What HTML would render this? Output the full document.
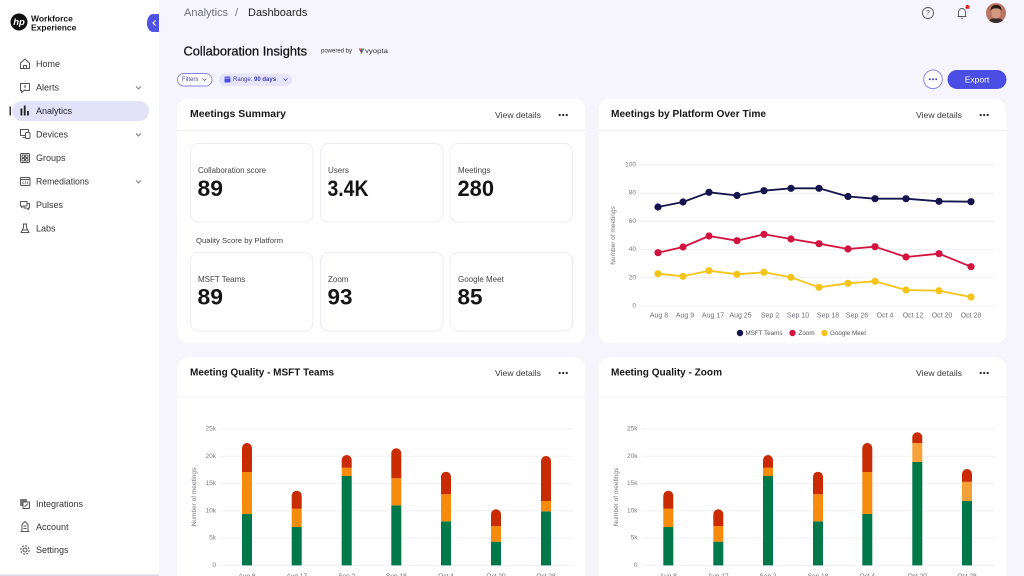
<!DOCTYPE html>
<html><head><meta charset="utf-8"><style>
html,body{margin:0;padding:0;width:1024px;height:576px;overflow:hidden;background:#f6f5fd;}
svg{display:block;}
</style></head><body>
<svg width="1024" height="576" viewBox="0 0 1024 576" font-family="'Liberation Sans', sans-serif">
<!-- backgrounds -->
<rect x="0" y="0" width="1024" height="576" fill="#f6f5fd"/>
<rect x="0" y="0" width="159" height="576" fill="#ffffff"/>
<rect x="0" y="574.5" width="159" height="1.5" fill="#dcdce4"/>

<!-- Logo -->
<circle cx="19" cy="22" r="8.5" fill="#111"/>
<text x="19" y="22.5" font-size="9.5" font-weight="bold" font-style="italic" fill="#fff" text-anchor="middle" dominant-baseline="central">hp</text>
<text x="31" y="18.5" font-size="8.5" font-weight="bold" fill="#151515" dominant-baseline="central">Workforce</text>
<text x="31" y="27.5" font-size="8.5" font-weight="bold" fill="#151515" dominant-baseline="central">Experience</text>

<!-- collapse tab -->
<path d="M159 14 V32 H156 A9 9 0 0 1 156 14 Z" fill="#4f52e2"/>
<rect x="147" y="14" width="12" height="18" rx="9" fill="#4f52e2"/>
<polyline points="155.5,20.5 153,23 155.5,25.5" fill="none" stroke="#fff" stroke-width="1.1"/>

<!-- Active pill -->
<rect x="12" y="101" width="137" height="20" rx="10" fill="#e3e2f8"/>
<rect x="9.5" y="106.5" width="1.5" height="9" fill="#333"/>

<!-- nav icons -->
<g fill="none" stroke="#555" stroke-width="1" stroke-linejoin="round">
  <!-- Home -->
  <path d="M20.5 68.5 V63 L25 59 L29.5 63 V68.5 Z"/>
  <path d="M23.5 68.5 V65.5 H26.5 V68.5"/>
  <!-- Alerts -->
  <path d="M20.5 83.5 H29.5 V90.5 H24 L21.5 92.5 V90.5 H20.5 Z"/>
  <path d="M25 85 V88 M25 89 V89.6"/>
  <!-- Devices -->
  <rect x="20.5" y="129.5" width="8" height="6"/>
  <path d="M22.5 137.5 H25"/>
  <rect x="25.5" y="132.5" width="4.5" height="6" rx="1" fill="#fff"/>
  <!-- Groups -->
  <rect x="20.5" y="153.5" width="9" height="9" rx="1"/>
  <rect x="22" y="155" width="2.5" height="2.5" rx="0.5"/>
  <rect x="25.5" y="155" width="2.5" height="2.5" rx="0.5"/>
  <rect x="22" y="158.5" width="2.5" height="2.5" rx="0.5"/>
  <rect x="25.5" y="158.5" width="2.5" height="2.5" rx="0.5"/>
  <!-- Remediations -->
  <rect x="20.5" y="177.5" width="9.5" height="8" rx="1"/>
  <path d="M20.5 179.5 H30"/>
  <path d="M23.5 181.5 L22.5 182.8 L23.5 184 M27 181.5 L28 182.8 L27 184 M25.8 181.3 L24.8 184.3" stroke-width="0.7"/>
  <!-- Pulses -->
  <path d="M20.5 201.5 H27 V206 H23.5 L21.5 207.5 V206 H20.5 Z"/>
  <path d="M27 203.5 H29.5 V208 H28.5 V209.5 L26.5 208 H24 V206"/>
  <!-- Labs -->
  <path d="M23.5 224 V227.5 L21 232.5 H29 L26.5 227.5 V224 M22.8 224 H27.2"/>
  <path d="M22 230 H28"/>
  <!-- Integrations -->
  <rect x="20.5" y="499.5" width="6" height="6" fill="#777" stroke="#777"/>
  <rect x="23" y="502" width="6.5" height="6.5" fill="#fff"/>
  <path d="M24.5 507 L28 503.5"/>
  <!-- Account -->
  <path d="M22 531.5 V524.5 L25 521.5 L28 524.5 V531.5 M20.5 531.5 H29.5 M23.5 526 H26.5 M23.5 528.5 H26.5"/>
  <!-- Settings -->
  <circle cx="25" cy="550" r="2"/>
  <circle cx="25" cy="550" r="4.2" stroke-dasharray="2 1.3"/>
</g>
<!-- Analytics icon -->
<g fill="#222">
  <rect x="20.5" y="108.5" width="1.8" height="7"/>
  <rect x="23.8" y="105.5" width="1.8" height="10"/>
  <rect x="27.1" y="111" width="1.8" height="4.5"/>
</g>

<!-- nav text -->
<g font-size="9" fill="#333" dominant-baseline="central">
  <text x="36" y="64">Home</text>
  <text x="36" y="87.5">Alerts</text>
  <text x="36" y="111" fill="#1e1e2a">Analytics</text>
  <text x="36" y="134.5">Devices</text>
  <text x="36" y="158">Groups</text>
  <text x="36" y="181.5" textLength="53" lengthAdjust="spacingAndGlyphs">Remediations</text>
  <text x="36" y="205">Pulses</text>
  <text x="36" y="228.5">Labs</text>
  <text x="36" y="504">Integrations</text>
  <text x="36" y="527">Account</text>
  <text x="36" y="550">Settings</text>
</g>
<g fill="none" stroke="#777" stroke-width="0.9">
  <polyline points="136,86.5 138.5,89 141,86.5"/>
  <polyline points="136,133.5 138.5,136 141,133.5"/>
  <polyline points="136,180.5 138.5,183 141,180.5"/>
</g>

<!-- Top header -->
<text x="184" y="13" font-size="11" fill="#70707c" dominant-baseline="central">Analytics</text>
<text x="235" y="13" font-size="11" fill="#70707c" dominant-baseline="central">/</text>
<text x="248" y="13" font-size="11" fill="#222" dominant-baseline="central">Dashboards</text>

<!-- top right -->
<circle cx="928" cy="13" r="5.5" fill="none" stroke="#555" stroke-width="0.9"/>
<text x="928" y="13.5" font-size="7" fill="#555" text-anchor="middle" dominant-baseline="central">?</text>
<path d="M957.5 16.5 H966.5 M958.5 16.5 V12 A3.5 3.5 0 0 1 965.5 12 V16.5 M961 18.3 H963" fill="none" stroke="#555" stroke-width="0.9"/>
<circle cx="967.5" cy="7" r="2" fill="#e0231b"/>
<clipPath id="av"><circle cx="996" cy="13" r="10"/></clipPath>
<g clip-path="url(#av)">
  <rect x="986" y="3" width="20" height="20" fill="#b87563"/>
  <ellipse cx="996" cy="13" rx="4.6" ry="5.6" fill="#d49a80"/>
  <path d="M990.5 11 Q991 4.5 996 5 Q1001.5 4.5 1001.5 11 L1000 9 Q996 7.5 992 9 Z" fill="#2a1a16"/>
  <path d="M987 24 Q989 17.5 996 18.5 Q1003 17.5 1005 24 Z" fill="#3b2c2c"/>
</g>

<!-- Title -->
<text x="183.5" y="51" font-size="13" fill="#111" stroke="#111" stroke-width="0.25" dominant-baseline="central" textLength="123.5" lengthAdjust="spacingAndGlyphs">Collaboration Insights</text>
<text x="321" y="51.5" font-size="6" fill="#333" dominant-baseline="central">powered by</text>
<path d="M358.5 48.5 L364.5 48.5 L361.5 54 Z" fill="#e04848"/>
<path d="M361.5 48.5 L364.5 48.5 L361.5 54 Z" fill="#3aa060"/>
<path d="M360 50 L363 50 L361.5 52.5 Z" fill="#3a60c8"/>
<text x="365" y="51.5" font-size="6.3" fill="#333" dominant-baseline="central" textLength="23" lengthAdjust="spacingAndGlyphs">vyopta</text>

<!-- Filters -->
<rect x="177.5" y="73.5" width="34.5" height="12.5" rx="6.25" fill="#fff" stroke="#8383e0" stroke-width="0.9"/>
<text x="182" y="79.8" font-size="6" fill="#45459e" dominant-baseline="central">Filters</text>
<polyline points="202.5,78.5 204.5,80.5 206.5,78.5" fill="none" stroke="#45459e" stroke-width="0.7"/>
<rect x="219" y="73.5" width="73" height="12.5" rx="6.25" fill="#e6e5f8"/>
<rect x="224.5" y="76.5" width="6" height="6" rx="0.8" fill="#4b4ee0"/>
<rect x="224.5" y="77.8" width="6" height="0.6" fill="#e6e5f8"/>
<text x="233" y="79.8" font-size="6" fill="#3b3bb0" dominant-baseline="central">Range: <tspan font-weight="bold">90 days</tspan></text>
<polyline points="283.5,78.5 285.5,80.5 287.5,78.5" fill="none" stroke="#3b3bb0" stroke-width="0.7"/>

<!-- Dots & Export -->
<circle cx="933" cy="79.3" r="9.3" fill="#fff" stroke="#8a8ae6" stroke-width="1"/>
<circle cx="929.8" cy="79.3" r="1" fill="#3d40c8"/>
<circle cx="933" cy="79.3" r="1" fill="#3d40c8"/>
<circle cx="936.2" cy="79.3" r="1" fill="#3d40c8"/>
<rect x="947.5" y="70" width="59" height="19" rx="9.5" fill="#4b4ee2"/>
<text x="977" y="79.5" font-size="8.5" fill="#fff" text-anchor="middle" dominant-baseline="central">Export</text>

<!-- Cards -->
<rect x="177" y="98.5" width="408.5" height="245" rx="12" fill="#fff"/>
<rect x="598.5" y="98.5" width="408" height="245" rx="12" fill="#fff"/>
<rect x="177" y="357" width="408.5" height="240" rx="12" fill="#fff"/>
<rect x="598.5" y="357" width="408" height="240" rx="12" fill="#fff"/>
<rect x="177" y="130" width="408.5" height="1" fill="#f0f0f4"/>
<rect x="598.5" y="130" width="408" height="1" fill="#f0f0f4"/>
<rect x="177" y="396.5" width="408.5" height="1" fill="#f0f0f4"/>
<rect x="598.5" y="396.5" width="408" height="1" fill="#f0f0f4"/>

<!-- card headers -->
<g font-size="10" font-weight="bold" fill="#161616" dominant-baseline="central">
  <text x="190" y="114.5" textLength="96" lengthAdjust="spacingAndGlyphs">Meetings Summary</text>
  <text x="611" y="114.5" textLength="155" lengthAdjust="spacingAndGlyphs">Meetings by Platform Over Time</text>
  <text x="190" y="373" textLength="144" lengthAdjust="spacingAndGlyphs">Meeting Quality - MSFT Teams</text>
  <text x="611" y="373" textLength="111" lengthAdjust="spacingAndGlyphs">Meeting Quality - Zoom</text>
</g>
<g font-size="8.6" fill="#3a3a3a" dominant-baseline="central">
  <text x="495" y="115" textLength="46" lengthAdjust="spacingAndGlyphs">View details</text>
  <text x="916" y="115" textLength="46" lengthAdjust="spacingAndGlyphs">View details</text>
  <text x="495" y="373" textLength="46" lengthAdjust="spacingAndGlyphs">View details</text>
  <text x="916" y="373" textLength="46" lengthAdjust="spacingAndGlyphs">View details</text>
</g>
<g fill="#222">
  <circle cx="559.7" cy="115" r="1.1"/><circle cx="563.2" cy="115" r="1.1"/><circle cx="566.7" cy="115" r="1.1"/>
  <circle cx="980.7" cy="115" r="1.1"/><circle cx="984.2" cy="115" r="1.1"/><circle cx="987.7" cy="115" r="1.1"/>
  <circle cx="559.7" cy="373" r="1.1"/><circle cx="563.2" cy="373" r="1.1"/><circle cx="566.7" cy="373" r="1.1"/>
  <circle cx="980.7" cy="373" r="1.1"/><circle cx="984.2" cy="373" r="1.1"/><circle cx="987.7" cy="373" r="1.1"/>
</g>

<!-- KPI boxes -->
<g fill="#fff" stroke="#ececf2" stroke-width="1">
  <rect x="190.5" y="143.5" width="122.5" height="78.5" rx="8"/>
  <rect x="320.5" y="143.5" width="122.5" height="78.5" rx="8"/>
  <rect x="450" y="143.5" width="122.5" height="78.5" rx="8"/>
  <rect x="190.5" y="252.5" width="122.5" height="78.5" rx="8"/>
  <rect x="320.5" y="252.5" width="122.5" height="78.5" rx="8"/>
  <rect x="450" y="252.5" width="122.5" height="78.5" rx="8"/>
</g>
<g font-size="8" fill="#444" dominant-baseline="central">
  <text x="198" y="170.5" textLength="68" lengthAdjust="spacingAndGlyphs">Collaboration score</text>
  <text x="328" y="170.5">Users</text>
  <text x="458" y="170.5">Meetings</text>
  <text x="198" y="279.5">MSFT Teams</text>
  <text x="328" y="279.5">Zoom</text>
  <text x="458" y="279.5">Google Meet</text>
</g>
<text x="196" y="240.5" font-size="7.6" fill="#444" dominant-baseline="central" textLength="87" lengthAdjust="spacingAndGlyphs">Quality Score by Platform</text>
<g font-size="22" font-weight="bold" fill="#141414" dominant-baseline="central">
  <text x="197.5" y="188.5" textLength="25.5" lengthAdjust="spacingAndGlyphs">89</text>
  <text x="327.5" y="188.5" textLength="41" lengthAdjust="spacingAndGlyphs">3.4K</text>
  <text x="457.5" y="188.5" textLength="36.5" lengthAdjust="spacingAndGlyphs">280</text>
  <text x="197.5" y="297" textLength="25.5" lengthAdjust="spacingAndGlyphs">89</text>
  <text x="327.5" y="297" textLength="25" lengthAdjust="spacingAndGlyphs">93</text>
  <text x="457.5" y="297" textLength="25" lengthAdjust="spacingAndGlyphs">85</text>
</g>

<!-- Line chart -->
<g stroke="#efeff4" stroke-width="1">
  <line x1="638" y1="165" x2="994" y2="165"/>
  <line x1="638" y1="193.2" x2="994" y2="193.2"/>
  <line x1="638" y1="221.4" x2="994" y2="221.4"/>
  <line x1="638" y1="249.6" x2="994" y2="249.6"/>
  <line x1="638" y1="277.8" x2="994" y2="277.8"/>
  <line x1="638" y1="306" x2="994" y2="306"/>
</g>
<g font-size="6.5" fill="#7a7a82" text-anchor="end" dominant-baseline="central">
  <text x="636" y="165">100</text>
  <text x="636" y="193.2">80</text>
  <text x="636" y="221.4">60</text>
  <text x="636" y="249.6">40</text>
  <text x="636" y="277.8">20</text>
  <text x="636" y="306">0</text>
</g>
<text transform="translate(613.5,235.5) rotate(-90)" font-size="6.5" fill="#7a7a82" text-anchor="middle" dominant-baseline="central">Number of meetings</text>
<g font-size="7" fill="#6e6e76" text-anchor="middle" dominant-baseline="central">
  <text x="659" y="316">Aug 8</text>
  <text x="685" y="316">Aug 9</text>
  <text x="713" y="316">Aug 17</text>
  <text x="740.5" y="316">Aug 25</text>
  <text x="770" y="316">Sep 2</text>
  <text x="798" y="316">Sep 10</text>
  <text x="828" y="316">Sep 18</text>
  <text x="857" y="316">Sep 26</text>
  <text x="885" y="316">Oct 4</text>
  <text x="913" y="316">Oct 12</text>
  <text x="942" y="316">Oct 20</text>
  <text x="971" y="316">Oct 28</text>
</g>
<g fill="none" stroke-width="1.8" stroke-linejoin="round">
  <polyline stroke="#14144f" points="658,207 683,202 709,192.3 737,195.5 764,190.7 791,188.3 819,188.3 848,196.5 875,198.7 906,198.7 939,201.3 971,201.7"/>
  <polyline stroke="#d3133f" points="658,252.7 683,247 709,236 737,240.7 764,234.3 791,239 819,243.7 848,249 875,246.7 906,257 939,253.7 971,266.7"/>
  <polyline stroke="#f6c419" points="658,273.7 683,276.3 709,270.7 737,274.3 764,272.3 791,277.3 819,287.3 848,283.3 875,281.3 906,290 939,290.7 971,297"/>
</g>
<g fill="#14144f">
  <circle cx="658" cy="207" r="3.6"/><circle cx="683" cy="202" r="3.6"/><circle cx="709" cy="192.3" r="3.6"/><circle cx="737" cy="195.5" r="3.6"/><circle cx="764" cy="190.7" r="3.6"/><circle cx="791" cy="188.3" r="3.6"/><circle cx="819" cy="188.3" r="3.6"/><circle cx="848" cy="196.5" r="3.6"/><circle cx="875" cy="198.7" r="3.6"/><circle cx="906" cy="198.7" r="3.6"/><circle cx="939" cy="201.3" r="3.6"/><circle cx="971" cy="201.7" r="3.6"/>
</g>
<g fill="#d3133f">
  <circle cx="658" cy="252.7" r="3.6"/><circle cx="683" cy="247" r="3.6"/><circle cx="709" cy="236" r="3.6"/><circle cx="737" cy="240.7" r="3.6"/><circle cx="764" cy="234.3" r="3.6"/><circle cx="791" cy="239" r="3.6"/><circle cx="819" cy="243.7" r="3.6"/><circle cx="848" cy="249" r="3.6"/><circle cx="875" cy="246.7" r="3.6"/><circle cx="906" cy="257" r="3.6"/><circle cx="939" cy="253.7" r="3.6"/><circle cx="971" cy="266.7" r="3.6"/>
</g>
<g fill="#f6c419">
  <circle cx="658" cy="273.7" r="3.6"/><circle cx="683" cy="276.3" r="3.6"/><circle cx="709" cy="270.7" r="3.6"/><circle cx="737" cy="274.3" r="3.6"/><circle cx="764" cy="272.3" r="3.6"/><circle cx="791" cy="277.3" r="3.6"/><circle cx="819" cy="287.3" r="3.6"/><circle cx="848" cy="283.3" r="3.6"/><circle cx="875" cy="281.3" r="3.6"/><circle cx="906" cy="290" r="3.6"/><circle cx="939" cy="290.7" r="3.6"/><circle cx="971" cy="297" r="3.6"/>
</g>
<!-- legend -->
<circle cx="740" cy="333" r="3.2" fill="#14144f"/>
<circle cx="792.5" cy="333" r="3.2" fill="#d3133f"/>
<circle cx="824.5" cy="333" r="3.2" fill="#f6c419"/>
<g font-size="6.3" fill="#555" dominant-baseline="central">
  <text x="745.5" y="333.3" textLength="37" lengthAdjust="spacingAndGlyphs">MSFT Teams</text>
  <text x="798.5" y="333.3">Zoom</text>
  <text x="830" y="333.3">Google Meet</text>
</g>

<!-- Bar chart 1 -->
<g stroke="#f0f0f4" stroke-width="1">
  <line x1="220" y1="429" x2="573" y2="429"/>
  <line x1="220" y1="456.3" x2="573" y2="456.3"/>
  <line x1="220" y1="483.6" x2="573" y2="483.6"/>
  <line x1="220" y1="510.9" x2="573" y2="510.9"/>
  <line x1="220" y1="538.1" x2="573" y2="538.1"/>
  <line x1="220" y1="565.4" x2="573" y2="565.4"/>
  <line x1="642" y1="429" x2="994" y2="429"/>
  <line x1="642" y1="456.3" x2="994" y2="456.3"/>
  <line x1="642" y1="483.6" x2="994" y2="483.6"/>
  <line x1="642" y1="510.9" x2="994" y2="510.9"/>
  <line x1="642" y1="538.1" x2="994" y2="538.1"/>
  <line x1="642" y1="565.4" x2="994" y2="565.4"/>
</g>
<g font-size="6.5" fill="#7a7a82" text-anchor="end" dominant-baseline="central">
  <text x="216" y="429">25k</text>
  <text x="216" y="456.3">20k</text>
  <text x="216" y="483.6">15k</text>
  <text x="216" y="510.9">10k</text>
  <text x="216" y="538.1">5k</text>
  <text x="216" y="565.4">0</text>
  <text x="637.5" y="429">25k</text>
  <text x="637.5" y="456.3">20k</text>
  <text x="637.5" y="483.6">15k</text>
  <text x="637.5" y="510.9">10k</text>
  <text x="637.5" y="538.1">5k</text>
  <text x="637.5" y="565.4">0</text>
</g>
<text transform="translate(194.5,497) rotate(-90)" font-size="6.5" fill="#7a7a82" text-anchor="middle" dominant-baseline="central">Number of meetings</text>
<text transform="translate(616.5,497) rotate(-90)" font-size="6.5" fill="#7a7a82" text-anchor="middle" dominant-baseline="central">Number of meetings</text>

<!-- bars card 3 -->
<g>
  <!-- bar: green rect, orange rect, red rounded -->
  <rect x="242" y="514" width="10" height="51.4" fill="#00794a"/>
  <rect x="242" y="472" width="10" height="42" fill="#f68b0c"/>
  <path d="M242 472 V448 A5 5 0 0 1 252 448 V472 Z" fill="#c92c03"/>

  <rect x="291.7" y="527" width="10" height="38.4" fill="#00794a"/>
  <rect x="291.7" y="508.7" width="10" height="18.3" fill="#f68b0c"/>
  <path d="M291.7 508.7 V495.7 A5 5 0 0 1 301.7 495.7 V508.7 Z" fill="#c92c03"/>

  <rect x="341.7" y="476" width="10" height="89.4" fill="#00794a"/>
  <rect x="341.7" y="467.7" width="10" height="8.3" fill="#f68b0c"/>
  <path d="M341.7 467.7 V460 A5 5 0 0 1 351.7 460 V467.7 Z" fill="#c92c03"/>

  <rect x="391.3" y="505.3" width="10" height="60.1" fill="#00794a"/>
  <rect x="391.3" y="478.3" width="10" height="27" fill="#f68b0c"/>
  <path d="M391.3 478.3 V453.3 A5 5 0 0 1 401.3 453.3 V478.3 Z" fill="#c92c03"/>

  <rect x="441" y="521.3" width="10" height="44.1" fill="#00794a"/>
  <rect x="441" y="494.3" width="10" height="27" fill="#f68b0c"/>
  <path d="M441 494.3 V476.7 A5 5 0 0 1 451 476.7 V494.3 Z" fill="#c92c03"/>

  <rect x="491" y="541.7" width="10" height="23.7" fill="#00794a"/>
  <rect x="491" y="526" width="10" height="15.7" fill="#f68b0c"/>
  <path d="M491 526 V514.3 A5 5 0 0 1 501 514.3 V526 Z" fill="#c92c03"/>

  <rect x="541" y="511.3" width="10" height="54.1" fill="#00794a"/>
  <rect x="541" y="501" width="10" height="10.3" fill="#f68b0c"/>
  <path d="M541 501 V461 A5 5 0 0 1 551 461 V501 Z" fill="#c92c03"/>
</g>
<!-- bars card 4 -->
<g>
  <rect x="663.3" y="527" width="10" height="38.4" fill="#00794a"/>
  <rect x="663.3" y="508.7" width="10" height="18.3" fill="#f68b0c"/>
  <path d="M663.3 508.7 V495.7 A5 5 0 0 1 673.3 495.7 V508.7 Z" fill="#c92c03"/>

  <rect x="713.3" y="541.7" width="10" height="23.7" fill="#00794a"/>
  <rect x="713.3" y="526" width="10" height="15.7" fill="#f68b0c"/>
  <path d="M713.3 526 V514.3 A5 5 0 0 1 723.3 514.3 V526 Z" fill="#c92c03"/>

  <rect x="763" y="476" width="10" height="89.4" fill="#00794a"/>
  <rect x="763" y="467.7" width="10" height="8.3" fill="#f68b0c"/>
  <path d="M763 467.7 V460 A5 5 0 0 1 773 460 V467.7 Z" fill="#c92c03"/>

  <rect x="813" y="521.3" width="10" height="44.1" fill="#00794a"/>
  <rect x="813" y="494.3" width="10" height="27" fill="#f68b0c"/>
  <path d="M813 494.3 V476.7 A5 5 0 0 1 823 476.7 V494.3 Z" fill="#c92c03"/>

  <rect x="862.3" y="514" width="10" height="51.4" fill="#00794a"/>
  <rect x="862.3" y="472" width="10" height="42" fill="#f68b0c"/>
  <path d="M862.3 472 V448 A5 5 0 0 1 872.3 448 V472 Z" fill="#c92c03"/>

  <rect x="912.3" y="462" width="10" height="103.4" fill="#00794a"/>
  <rect x="912.3" y="443" width="10" height="19" fill="#f9a23a"/>
  <path d="M912.3 443 V437.3 A5 5 0 0 1 922.3 437.3 V443 Z" fill="#c92c03"/>

  <rect x="962" y="501" width="10" height="64.4" fill="#00794a"/>
  <rect x="962" y="481.7" width="10" height="19.3" fill="#f8a038"/>
  <path d="M962 481.7 V474 A5 5 0 0 1 972 474 V481.7 Z" fill="#c92c03"/>
</g>
<g font-size="6.5" fill="#6e6e76" text-anchor="middle">
  <text x="247" y="578">Aug 8</text>
  <text x="296.7" y="578">Aug 17</text>
  <text x="346.7" y="578">Sep 2</text>
  <text x="396.3" y="578">Sep 18</text>
  <text x="446" y="578">Oct 4</text>
  <text x="496" y="578">Oct 20</text>
  <text x="546" y="578">Oct 28</text>
  <text x="668.3" y="578">Aug 8</text>
  <text x="718.3" y="578">Aug 17</text>
  <text x="768" y="578">Sep 2</text>
  <text x="818" y="578">Sep 18</text>
  <text x="867.3" y="578">Oct 4</text>
  <text x="917.3" y="578">Oct 20</text>
  <text x="967" y="578">Oct 28</text>
</g>
</svg>
</body></html>
